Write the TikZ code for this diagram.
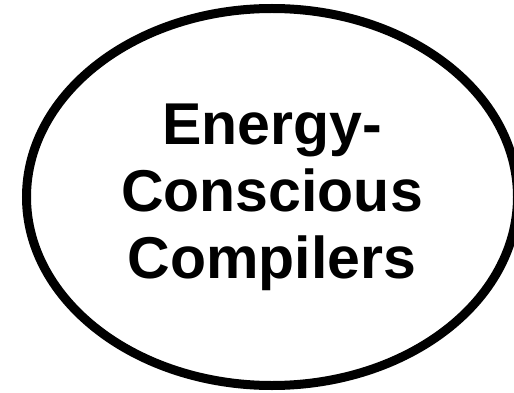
\documentclass[tikz,border=0pt]{standalone}
\usepackage{fontspec}
\setmainfont{Liberation Sans}
\usepackage{tikz}
\usetikzlibrary{shapes.geometric,positioning}
\tikzstyle{topic} = [ellipse,draw=black,line width=9pt,minimum width=491pt,minimum height=377pt,inner sep=0pt,align=center,font=\bfseries\fontsize{59}{67}\selectfont]

\begin{document}
\begin{tikzpicture}[x=1pt,y=-1pt]
        \useasboundingbox (0,0) rectangle (514,393);
        \node[topic] (ecc) at (272,197) {Energy-\\Conscious\\Compilers};
    \end{tikzpicture}
\end{document}
